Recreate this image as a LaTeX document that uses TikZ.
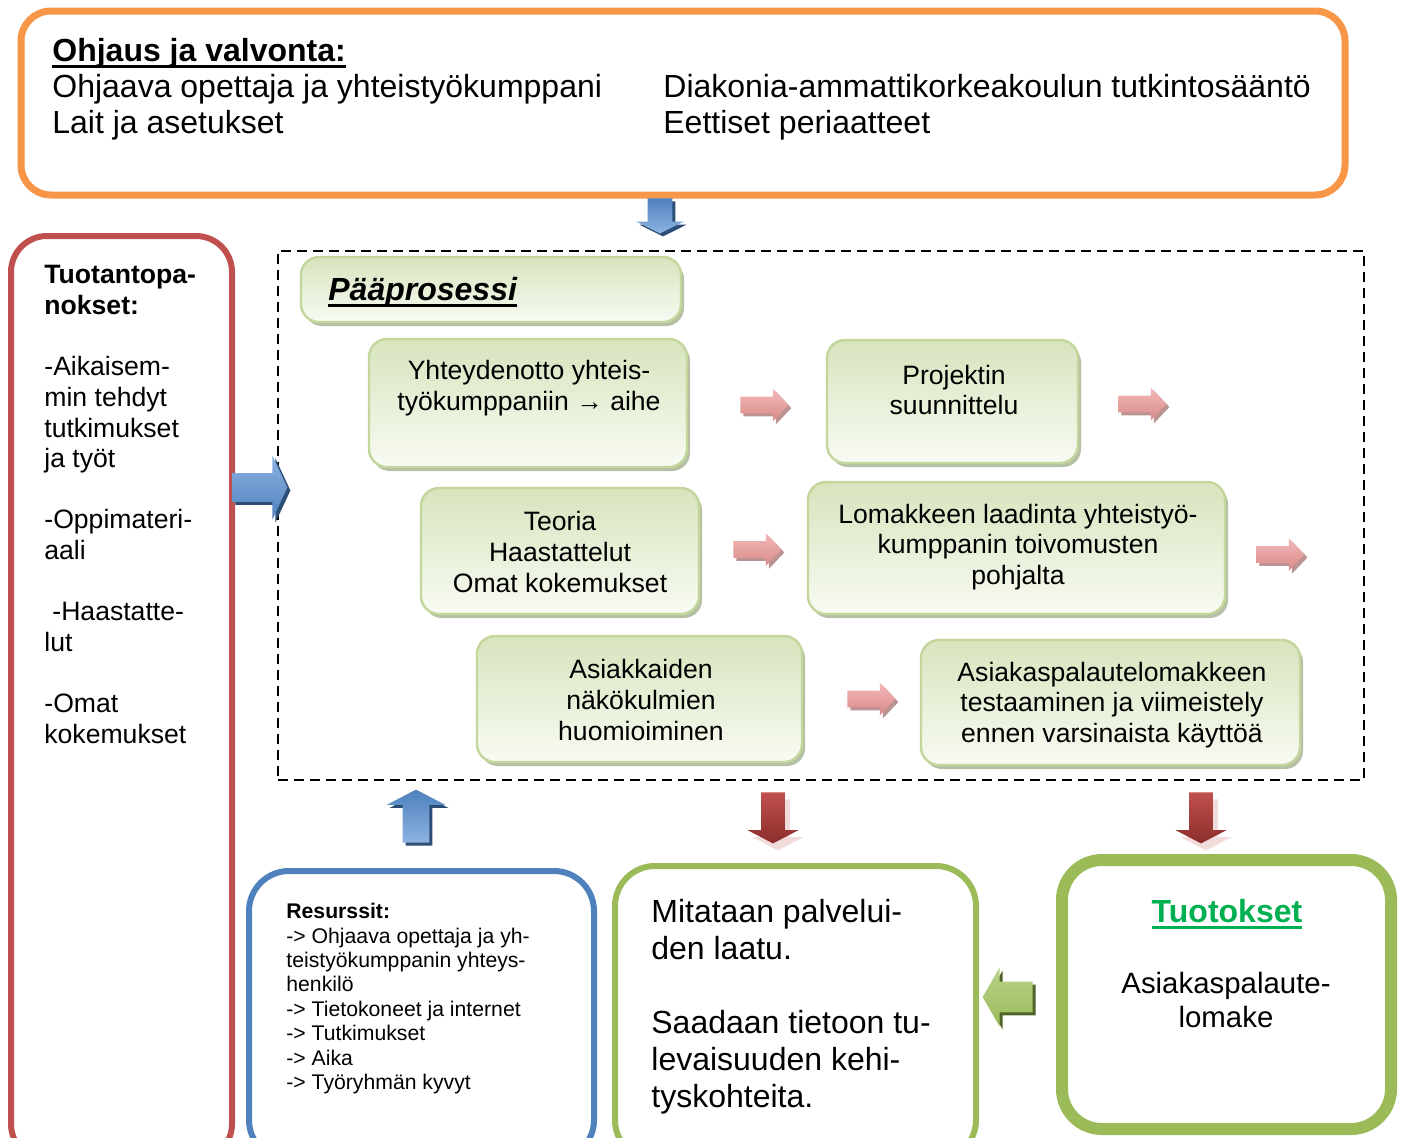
\documentclass[tikz,border=0pt]{standalone}
\usepackage{fontspec}
\setmainfont{Liberation Sans}
\usetikzlibrary{shapes.arrows}
\usetikzlibrary{shadows}

\newcommand{\ulText}[1]{\setbox0\hbox{#1}\rlap{\rule[-3.3pt]{\wd0}{1.1pt}}\box0}

\definecolor{ohjOrange}{HTML}{F79646}
\definecolor{inRed}{HTML}{C0504D}
\definecolor{resBlue}{HTML}{4F81BD}
\definecolor{outGreen}{HTML}{9BBB59}
\definecolor{tuotGreen}{HTML}{00B050}
\definecolor{procTop}{HTML}{D7E4BD}
\definecolor{procBot}{HTML}{F8FBF3}
\definecolor{procLine}{HTML}{C3D69B}
\definecolor{procShadow}{HTML}{A3B18E}
\definecolor{blueTop}{HTML}{4F81BD}
\definecolor{blueBot}{HTML}{8DB3E2}
\definecolor{blueShadow}{HTML}{2C4D75}
\definecolor{pinkTop}{HTML}{F2B9B8}
\definecolor{pinkBot}{HTML}{D98A89}
\definecolor{pinkShadow}{HTML}{BB9393}
\definecolor{redTop}{HTML}{C0504D}
\definecolor{redBot}{HTML}{8B2E2C}
\definecolor{redGhost}{HTML}{F2DCDB}
\definecolor{greenTop}{HTML}{B9D28A}
\definecolor{greenBot}{HTML}{9BBB59}
\definecolor{greenShadow}{HTML}{4F6228}

\begin{document}
\begin{tikzpicture}[x=0.5pt,y=-0.5pt,
	every node/.style={inner sep=0pt},
	frame/.style={draw, line width=3pt, rounded corners=18pt},
	proc node/.style={draw=procLine, line width=1.2pt, rounded corners=9pt,
		top color=procTop, bottom color=procBot,
		drop shadow={shadow xshift=1.5pt, shadow yshift=-2pt, fill=procShadow, opacity=0.8}},
	big txt/.style={font=\fontsize{16}{18.5}\selectfont, align=left},
	box txt/.style={font=\fontsize{13.3}{15.4}\selectfont, align=center},
	blk arrow/.style={single arrow, anchor=tail, single arrow head indent=0pt},
	blue arrow/.style={blk arrow, top color=blueTop, bottom color=blueBot,
		drop shadow={shadow xshift=1.5pt, shadow yshift=-1.5pt, fill=blueShadow, opacity=1}},
	pink arrow/.style={blk arrow, top color=pinkTop, bottom color=pinkBot,
		inner sep=4pt, minimum height=24pt, minimum width=16pt, single arrow head extend=4pt,
		single arrow tip angle=93,
		drop shadow={shadow xshift=1.5pt, shadow yshift=-1.5pt, fill=pinkShadow, opacity=1}},
	red arrow/.style={blk arrow, top color=redTop, bottom color=redBot,
		shape border rotate=270, inner sep=5.75pt, minimum height=25.5pt, minimum width=25pt,
		single arrow head extend=6.75pt, single arrow tip angle=125,
		drop shadow={shadow xshift=2.5pt, shadow yshift=-3.5pt, fill=redGhost, opacity=1}}
	]
	
	\useasboundingbox (0,0) rectangle (1405,1137);
	
	% frames
	\node[frame, draw=ohjOrange, line width=3.5pt, rounded corners=15pt,
		minimum width=662pt, minimum height=92pt] (ohjaus) at (683,103) {};
	\node[frame, draw=inRed, minimum width=110.5pt, minimum height=462pt] (panokset) at (121.5,698) {};
	\node[frame, draw=resBlue, rounded corners=20pt,
		minimum width=172.5pt, minimum height=144.5pt] (resurssit) at (421.5,1015.5) {};
	\node[frame, draw=outGreen, rounded corners=20pt,
		minimum width=180.5pt, minimum height=147pt] (laatu) at (795.5,1013) {};
	\node[frame, draw=outGreen, line width=6pt, rounded corners=20pt,
		minimum width=164.5pt, minimum height=134.5pt] (tuotokset) at (1226.5,994.5) {};
	\node[draw, line width=1pt, dash pattern=on 5pt off 3pt,
		minimum width=543pt, minimum height=264.5pt] (prosessi) at (821,515.5) {};
	
	% ohjaus ja valvonta
	\node[big txt, anchor=base west] (ohjH) at (52,61) {\ulText{\textbf{Ohjaus ja valvonta:}}};
	\node[big txt, anchor=base west] (ohj1) at (52,97) {Ohjaava opettaja ja yhteistyökumppani};
	\node[big txt, anchor=base west] (ohj2) at (52,133) {Lait ja asetukset};
	\node[big txt, anchor=base west] (ohj3) at (663,97) {Diakonia-ammattikorkeakoulun tutkintosääntö};
	\node[big txt, anchor=base west] (ohj4) at (663,133) {Eettiset periaatteet};
	
	% panokset
	\node[anchor=north west, align=left, font=\fontsize{13.3}{15.33}\selectfont] (panTxt) at (44,265)
		{\textbf{Tuotantopa-}\\\textbf{nokset:}\\[15.33pt]-Aikaisem-\\min tehdyt\\tutkimukset\\ja työt\\[15.33pt]%
		-Oppimateri-\\aali\\[15.33pt]\hspace*{4pt}-Haastatte-\\lut\\[15.33pt]-Omat\\kokemukset};
	
	% paaprosessi
	\node[proc node, minimum width=190pt, minimum height=32.5pt] (pp) at (491,289.5) {};
	\node[big txt, anchor=base west] (ppTxt) at (328,300) {\ulText{\bfseries\itshape Pääprosessi}};
	\node[proc node, minimum width=159pt, minimum height=64pt] (p1) at (528,403) {};
	\node[proc node, minimum width=125.5pt, minimum height=61.5pt] (p2) at (952.5,401.5) {};
	\node[proc node, minimum width=139pt, minimum height=63pt] (p3) at (560,551) {};
	\node[proc node, minimum width=208.5pt, minimum height=66pt] (p4) at (1016.5,548) {};
	\node[proc node, minimum width=162.5pt, minimum height=63pt] (p5) at (639.5,699) {};
	\node[proc node, minimum width=189.5pt, minimum height=62.5pt] (p6) at (1110.5,702.5) {};
	\node[box txt] (p1Txt) at (529,388) {Yhteydenotto yhteis-\\työkumppaniin → aihe};
	\node[box txt] (p2Txt) at (954,390) {Projektin\\suunnittelu};
	\node[box txt] (p3Txt) at (560,552) {Teoria\\Haastattelut\\Omat kokemukset};
	\node[box txt] (p4Txt) at (1018,547) {Lomakkeen laadinta yhteistyö-\\kumppanin toivomusten\\pohjalta};
	\node[box txt] (p5Txt) at (641,700) {Asiakkaiden\\näkökulmien\\huomioiminen};
	\node[box txt] (p6Txt) at (1112,705) {Asiakaspalautelomakkeen\\testaaminen ja viimeistely\\ennen varsinaista käyttöä};
	
	% resurssit
	\node[anchor=north west, align=left, font=\fontsize{10.6}{12.2}\selectfont] (resTxt) at (286,903)
		{\textbf{Resurssit:}\\-> Ohjaava opettaja ja yh-\\teistyökumppanin yhteys-\\henkilö\\-> Tietokoneet ja internet\\%
		-> Tutkimukset\\-> Aika\\-> Työryhmän kyvyt};
	
	% tuotokset
	\node[big txt, anchor=north west] (laatuTxt) at (651,899)
		{Mitataan palvelui-\\den laatu.\\[18.5pt]Saadaan tietoon tu-\\levaisuuden kehi-\\tyskohteita.};
	\node[big txt, anchor=base, text=tuotGreen] (tuotH) at (1227,922) {\ulText{\textbf{Tuotokset}}};
	\node[align=center, font=\fontsize{14.7}{17}\selectfont] (tuotTxt) at (1226,1000) {Asiakaspalaute-\\lomake};
	
	% block arrows
	\node[blue arrow, shape border rotate=270, inner sep=6pt, minimum height=17.5pt, minimum width=23pt,
		single arrow head extend=5.5pt, single arrow tip angle=127] (aOhj) at (660,198) {};
	\node[blue arrow, top color=blueBot, bottom color=blueTop, inner sep=7pt,
		minimum height=27.5pt, minimum width=32pt,
		single arrow head extend=9pt, single arrow tip angle=130] (aPan) at (232,487.5) {};
	\node[blue arrow, shape border rotate=90, top color=blueTop, bottom color=blueBot, inner sep=6.5pt,
		minimum height=26.5pt, minimum width=29pt,
		single arrow head extend=8pt, single arrow tip angle=125] (aRes) at (416,843) {};
	\node[pink arrow] (a12) at (740,405) {};
	\node[pink arrow] (a2o) at (1118,404) {};
	\node[pink arrow] (a34) at (733,549.5) {};
	\node[pink arrow] (a4o) at (1256,554.5) {};
	\node[pink arrow] (a56) at (847,699) {};
	\node[red arrow] (aLaatu) at (773,792) {};
	\node[red arrow] (aTuot) at (1201,792) {};
	\node[blk arrow, shape border rotate=180, top color=greenTop, bottom color=greenBot, inner sep=7.5pt,
		minimum height=25pt, minimum width=29pt, single arrow head extend=7pt, single arrow tip angle=120,
		drop shadow={shadow xshift=1.5pt, shadow yshift=-1.5pt, fill=greenShadow, opacity=1}] (aBack) at (1033,997) {};
\end{tikzpicture}
\end{document}
